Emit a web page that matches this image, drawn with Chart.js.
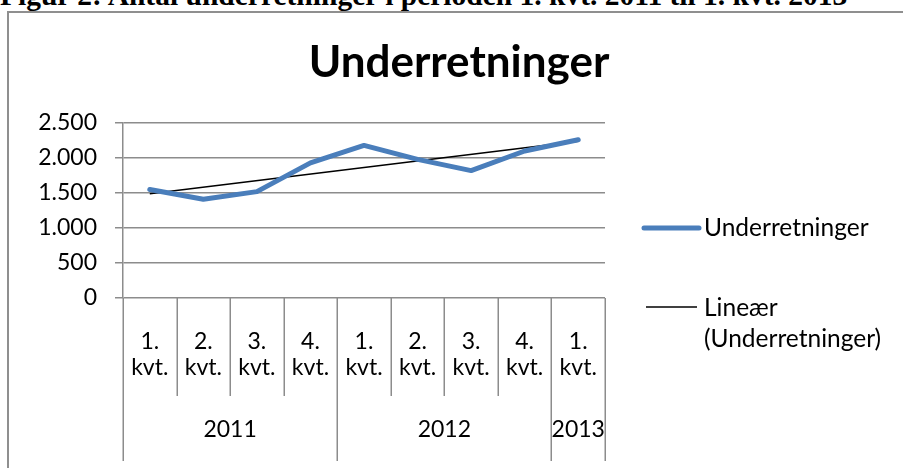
<!DOCTYPE html>
<html>
<head>
<meta charset="utf-8">
<script src="https://cdn.jsdelivr.net/npm/chart.js@4.4.1/dist/chart.umd.min.js"></script>
<style>
  html, body { margin: 0; padding: 0; background: #fff; }
  body { width: 903px; height: 468px; overflow: hidden; position: relative; }
  #heading { position: absolute; left: 0; top: -19px; white-space: nowrap;
    font-family: "Liberation Serif", "Times New Roman", serif; font-weight: bold;
    font-size: 29.5px; line-height: 29px; color: #000; }
  #frame { position: absolute; left: 7px; top: 11px; width: 940px; height: 520px;
    border: 2px solid #8f8f8f; box-sizing: border-box; }
  #wrap { position: absolute; left: 0; top: 0; width: 903px; height: 468px; }
</style>
</head>
<body>
<div id="heading">Figur 2: Antal underretninger i perioden 1. kvt. 2011 til 1. kvt. 2013</div>
<div id="frame"></div>
<div id="wrap"><canvas id="c" width="903" height="468"></canvas></div>
<script>
// ---- data ----
const chartTitle = "Underretninger";
const quarters = [["1.", "kvt."], ["2.", "kvt."], ["3.", "kvt."], ["4.", "kvt."],
                  ["1.", "kvt."], ["2.", "kvt."], ["3.", "kvt."], ["4.", "kvt."],
                  ["1.", "kvt."]];
const years = ["2011", "2012", "2013"];
const yearSpans = [4, 4, 1];           // number of quarters in each year group
const seriesName = "Underretninger";
const underretninger = [1550, 1410, 1520, 1930, 2180, 1980, 1820, 2100, 2260];
const trendName = ["Lineær", "(Underretninger)"];
const trendEnds = [1490, 2240];        // trendline read at first and last quarter
const yTicks = [0, 500, 1000, 1500, 2000, 2500];

const trendData = underretninger.map((_, i) =>
  i === 0 ? trendEnds[0] : (i === underretninger.length - 1 ? trendEnds[1] : null));

const FONT = "Lato, 'Open Sans', sans-serif";
const GRID = "#8c8c8c";
const BLUE = "#4a7ebb";

function fmt(v) { return String(v).replace(/\B(?=(\d{3})+(?!\d))/g, "."); }

const decorPlugin = {
  id: "decor",
  afterDraw(chart) {
    const ctx = chart.ctx;
    const x = chart.scales.x;
    const area = chart.chartArea;
    const n = quarters.length;
    const step = x.getPixelForValue(1) - x.getPixelForValue(0);
    const edge = i => x.getPixelForValue(0) - step / 2 + i * step;
    const qBottom = area.bottom + 98;
    const yBottom = area.bottom + 163;
    const bounds = [0];
    yearSpans.forEach(s => bounds.push(bounds[bounds.length - 1] + s));
    ctx.save();
    ctx.strokeStyle = GRID;
    ctx.lineWidth = 1.5;
    for (let i = 0; i <= n; i++) {
      const px = Math.round(edge(i)) + 0.25;
      const isYear = bounds.includes(i);
      ctx.beginPath();
      ctx.moveTo(px, area.bottom);
      ctx.lineTo(px, isYear ? yBottom : qBottom);
      ctx.stroke();
    }
    // year labels
    ctx.fillStyle = "#000";
    ctx.font = "23px " + FONT;
    ctx.textAlign = "center";
    ctx.textBaseline = "middle";
    years.forEach((yr, k) => {
      const cx = (edge(bounds[k]) + edge(bounds[k + 1])) / 2;
      ctx.fillText(yr, cx, area.bottom + 132);
    });
    // title
    ctx.font = "bold 44px " + FONT;
    ctx.textBaseline = "alphabetic";
    ctx.fillText(chartTitle, 459, 77);
    // legend
    const ds = chart.data.datasets;
    const lx0 = area.right + 39, lx1 = area.right + 94, tx = area.right + 99;
    const ly1 = 228, ly2 = 307;
    ctx.lineCap = "round";
    ctx.strokeStyle = ds[0].borderColor;
    ctx.lineWidth = ds[0].borderWidth;
    ctx.beginPath(); ctx.moveTo(lx0, ly1); ctx.lineTo(lx1, ly1); ctx.stroke();
    ctx.lineCap = "butt";
    ctx.strokeStyle = ds[1].borderColor;
    ctx.lineWidth = ds[1].borderWidth;
    ctx.beginPath(); ctx.moveTo(lx0 + 2, ly2); ctx.lineTo(lx1 - 2, ly2); ctx.stroke();
    ctx.font = "24.5px " + FONT;
    ctx.textAlign = "left";
    ctx.textBaseline = "middle";
    ctx.fillText(ds[0].label, tx, ly1);
    ctx.fillText(trendName[0], tx, ly2 + 1);
    ctx.fillText(trendName[1], tx, ly2 + 32);
    ctx.restore();
  }
};

new Chart(document.getElementById("c"), {
  type: "line",
  data: {
    labels: quarters,
    datasets: [
      { label: seriesName, data: underretninger, borderColor: BLUE, backgroundColor: BLUE,
        borderWidth: 5, pointRadius: 0, tension: 0, borderJoinStyle: "round", borderCapStyle: "round" },
      { label: trendName.join(" "), data: trendData, borderColor: "#000", backgroundColor: "#000",
        borderWidth: 1.5, pointRadius: 0, tension: 0, spanGaps: true }
    ]
  },
  options: {
    responsive: false,
    animation: false,
    layout: { padding: { top: 123, right: 298, left: 0, bottom: 0 } },
    plugins: { legend: { display: false }, title: { display: false }, tooltip: { enabled: false } },
    scales: {
      x: {
        offset: true,
        grid: { display: false },
        border: { display: false },
        ticks: { color: "#000", font: { family: FONT, size: 23, lineHeight: "26px" },
                 padding: 23, autoSkip: false, maxRotation: 0, minRotation: 0 },
        afterFit(scale) { scale.height = 170; }
      },
      y: {
        min: 0, max: 2500,
        afterBuildTicks(scale) { scale.ticks = yTicks.map(v => ({ value: v })); },
        grid: { color: GRID, lineWidth: 1.5, tickLength: 8, drawTicks: true },
        border: { display: true, color: GRID, width: 1.5 },
        ticks: { color: "#000", font: { family: FONT, size: 23 }, padding: 18,
                 callback: v => fmt(v) },
        afterFit(scale) { scale.width = 123; }
      }
    }
  },
  plugins: [decorPlugin]
});
</script>
</body>
</html>
